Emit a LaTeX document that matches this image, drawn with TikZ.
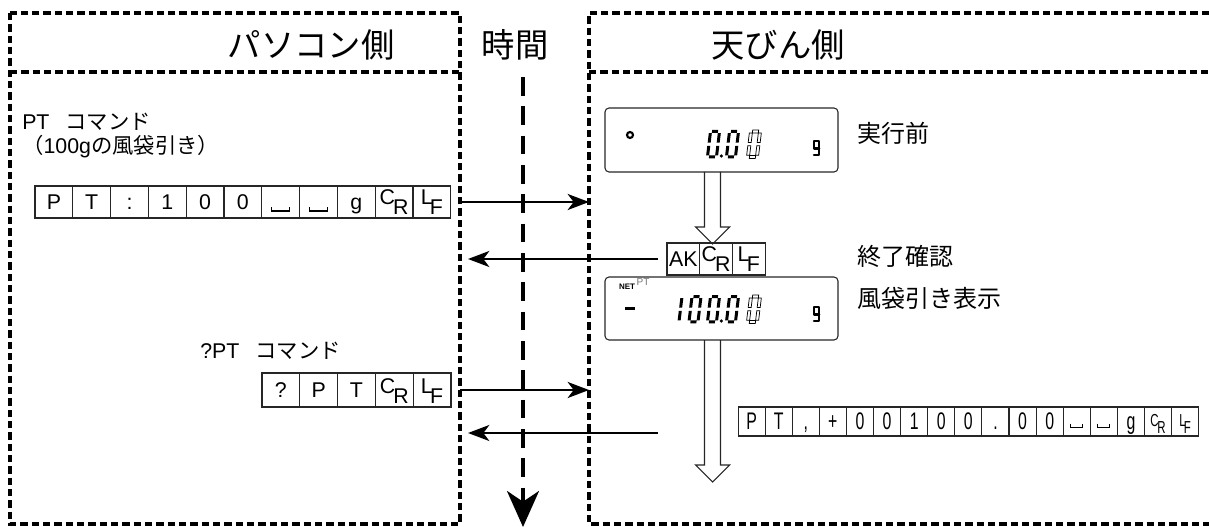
\documentclass[tikz,border=0pt]{standalone}
\usepackage{fontspec}
\setmainfont{Liberation Sans}
\newfontfamily\cjk{Noto Sans CJK JP}
\newfontfamily\narrowsf[FakeStretch=0.66]{Liberation Sans}
\usetikzlibrary{arrows.meta}

% seven-segment helpers (local y grows downward)
\newcommand\dzero[3]{\begin{scope}[shift={(#1,#2)},xslant=0.12]
 \path[#3] (1.5,-1.5) rectangle (7.5,1.5) (7.5,1.6) rectangle (10.5,11.1)
  (7.5,14.3) rectangle (10.5,23.8) (1.5,23.9) rectangle (7.5,26.9)
  (-1.5,14.3) rectangle (1.5,23.8) (-1.5,1.6) rectangle (1.5,11.1);
\end{scope}}
\newcommand\done[3]{\begin{scope}[shift={(#1,#2)},xslant=0.12]
 \path[#3] (7.5,1.6) rectangle (10.5,11.1) (7.5,14.3) rectangle (10.5,23.8);
\end{scope}}
\newcommand\dgee[2]{\draw[gseg] (#1+5,#2+7.5) -- (#1,#2+7.5) -- (#1,#2) -- (#1+5,#2) -- (#1+5,#2+14) -- (#1,#2+14);}

\newcommand\CRa{\fontsize{16}{16}\selectfont\raisebox{3.5pt}{C}\kern-1.5pt\raisebox{-4pt}{R}}
\newcommand\LFa{\fontsize{16}{16}\selectfont\raisebox{3.5pt}{L}\kern-2pt\raisebox{-4pt}{F}}
\newcommand\CRb{\fontsize{13}{13}\selectfont\raisebox{2.5pt}{C}\kern-1pt\raisebox{-3pt}{R}}
\newcommand\LFb{\fontsize{13}{13}\selectfont\raisebox{2.5pt}{L}\kern-1.5pt\raisebox{-3pt}{F}}

\tikzset{
 frame/.style={line width=2.6pt, dash pattern=on 5.5pt off 3pt},
 msg/.style={line width=1.8pt, -{Stealth[length=16pt,width=12pt,inset=4.5pt]}},
 timeline/.style={line width=2.5pt, dash pattern=on 14pt off 8pt,
   -{Stealth[length=27pt,width=24pt,inset=8pt]}},
 cellbase/.style={draw=black!85, line width=0.8pt, inner sep=0pt, outer sep=0pt,
   text height=11.5pt, text depth=0pt},
 cellA/.style={cellbase, minimum width=28.35pt, minimum height=24pt, font=\fontsize{16}{16}\selectfont},
 cellQ/.style={cellbase, minimum width=28.35pt, minimum height=25.5pt, font=\fontsize{16}{16}\selectfont},
 cellK/.style={cellbase, minimum width=24.5pt, minimum height=24pt, font=\fontsize{16}{16}\selectfont},
 cellR/.style={cellbase, minimum width=20.25pt, minimum height=21.75pt, text height=12.6pt,
   font=\fontsize{18}{18}\narrowsf},
 blank/.style={line width=0.8pt},
 title/.style={inner sep=0pt, font=\cjk\fontsize{25}{25}\selectfont},
 label/.style={inner sep=0pt, anchor=west, font=\cjk\fontsize{18}{18}\selectfont},
 cmd/.style={inner sep=0pt, anchor=base west, font=\fontsize{16}{16}\selectfont},
 disp/.style={draw=black!85, line width=0.8pt, rounded corners=3pt, inner sep=0pt},
 segfill/.style={fill=black},
 segline/.style={draw=black, line width=0.55pt},
 gseg/.style={line width=1.9pt, line join=round, line cap=round},
 hol/.style={line width=0.8pt, draw=black!85},
}

\begin{document}
\begin{tikzpicture}[x=0.75pt,y=-0.75pt]
\useasboundingbox (0,0) rectangle (1209,527);

% frames
\draw[frame] (10,13) rectangle (460,524);
\draw[frame] (10,72) -- (460,72);
\draw[frame] (1209,13) -- (589,13) -- (589,524) -- (1209,524);
\draw[frame] (589,72) -- (1209,72);
\coordinate (Le) at (460,0);
\coordinate (Re) at (589,0);
\coordinate (Lt) at (468,0);

% titles
\node[title] (tpc) at (311,45) {パソコン側};
\node[title] (ttime) at (515,45) {時間};
\node[title] (tbal) at (778,45) {天びん側};

% time arrow
\coordinate (tTop) at (523,77);
\coordinate (tBot) at (523,527);
\draw[timeline] (tTop) -- (tBot);

% PT command
\node[cmd] (c1) at (22,130) {PT\hspace{0.75em}{\cjk コマンド}};
\node[cmd] (c2) at (22,154) {{\cjk （}100g{\cjk の風袋引き）}};
\foreach \t [count=\i] in {P,T,:,1,0,0,{},{},g,\CRa,\LFa}
  \node[cellA] (ptc\i) at ({35+37.8*(\i-0.5)},202) {\t};
\foreach \c in {ptc7,ptc8}
  \draw[blank] ([shift={(-9,5)}]\c.center) -- ++(0,4) -- ++(18,0) -- ++(0,-4);
\draw[msg] (Le |- ptc11.center) -- (Re |- ptc11.center);

% display 1
\node[disp, minimum width=174.75pt, minimum height=48pt] (d1) at (721.5,140) {};
\draw[line width=1.6pt] (630,135) circle (3);
\dzero{710.5}{131.5}{segfill}
\fill (721.3,156) circle (1.8);
\dzero{729.5}{131.5}{segfill}
\dzero{751}{131.5}{segline}
\dgee{814}{141}
\node[label] (l1) at (857,133) {実行前};

% hollow arrow 1
\draw[hol] (704.5,172) -- (704.5,227) -- (695.5,227) -- (712.5,244) -- (729.5,227) -- (720.5,227) -- (720.5,172);

% AK CR LF
\foreach \t [count=\i] in {AK,\CRa,\LFa}
  \node[cellK] (akc\i) at ({667+32.7*(\i-0.5)},259) {\t};
\draw[msg] ([xshift=-6.75pt]akc1.west) -- (Lt |- akc1.west);
\node[label] (l2) at (857,256) {終了確認};

% display 2
\node[disp, minimum width=174.75pt, minimum height=47.25pt] (d2) at (721.5,308.5) {};
\node[inner sep=0pt, font=\bfseries\fontsize{6}{6}\selectfont] (net) at (627,287) {NET};
\node[inner sep=0pt, text=black!55, font=\fontsize{7.5}{7.5}\selectfont] (ptl) at (643,282) {PT};
\fill (625,306.5) rectangle (635,309.5);
\done{673}{296.5}{segfill}
\dzero{692}{296.5}{segfill}
\dzero{710.5}{296.5}{segfill}
\fill (721.3,321) circle (1.8);
\dzero{729.5}{296.5}{segfill}
\dzero{751}{296.5}{segline}
\dgee{814}{307}
\node[label] (l3) at (857,298) {風袋引き表示};

% hollow arrow 2
\draw[hol] (704.5,340) -- (704.5,465) -- (695.5,465) -- (712.5,482) -- (729.5,465) -- (720.5,465) -- (720.5,340);

% ?PT command
\node[cmd] (c3) at (200,358) {?PT\hspace{0.75em}{\cjk コマンド}};
\foreach \t [count=\i] in {?,P,T,\CRa,\LFa}
  \node[cellQ] (qc\i) at ({262+37.8*(\i-0.5)},390) {\t};
\draw[msg] (Le |- qc5.center) -- (Re |- qc5.center);

% response
\foreach \t [count=\i] in {P,T,{,},+,0,0,1,0,0,.,0,0,{},{},g,\CRb,\LFb}
  \node[cellR] (rc\i) at ({738+27.1*(\i-0.5)},421.5) {\t};
\foreach \c in {rc13,rc14}
  \draw[blank] ([shift={(-6,2)}]\c.center) -- ++(0,4) -- ++(12,0) -- ++(0,-4);
\coordinate (rs) at (658,433);
\draw[msg] (rs) -- (Lt |- rs);
\end{tikzpicture}
\end{document}
